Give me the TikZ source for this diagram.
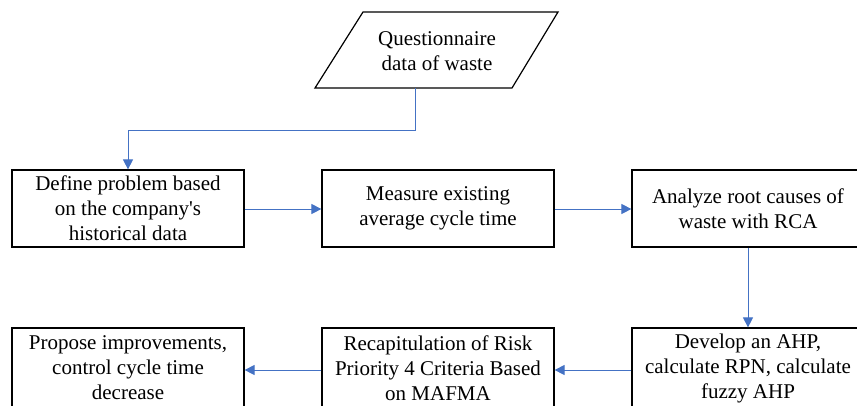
\documentclass[tikz,border=0pt]{standalone}
\usepackage{fontspec}
\setmainfont{Liberation Serif}
\usetikzlibrary{arrows.meta,calc}
\definecolor{conn}{HTML}{4472C4}
\tikzset{
  x=1pt,y=-1pt,
  stepbox/.style={draw=black,line width=1.2pt,minimum width=232pt,minimum height=77pt,align=center,inner sep=2pt,
    font=\fontsize{21}{25}\selectfont},
  lowbox/.style={stepbox,minimum height=80pt},
  conn/.style={draw=conn,line width=0.9pt,-{Triangle[length=10pt,width=10pt]}}
}
\begin{document}
\begin{tikzpicture}
\useasboundingbox (0,0) rectangle (857,405);
\clip (0,0) rectangle (857,405);
% input parallelogram
\draw[line width=1.2pt] (363,12) -- (558,12) -- (512,88) -- (315,88) -- cycle;
\node[align=center,font=\fontsize{21}{25}\selectfont] (q) at (437,51) {Questionnaire\\data of waste};
\coordinate (qb) at (415,88);
% top row
\node[stepbox] (b1) at (128,208.5) {Define problem based\\on the company\textquotesingle s\\historical data};
\node[stepbox] (b2) at (438,208.5) {Measure existing\\average cycle time};
\node[stepbox] (b3) at (748,208.5) {Analyze root causes of\\waste with RCA};
% bottom row
\node[lowbox] (b6) at (748,368) {Develop an AHP,\\calculate RPN, calculate\\fuzzy AHP};
\node[lowbox] (b5) at (438,368) {Recapitulation of Risk\\Priority 4 Criteria Based\\on MAFMA};
\node[lowbox] (b4) at (128,368) {Propose improvements,\\control cycle time\\decrease};
% connectors
\draw[conn] (qb) -- ++(0,42) -| (b1.north);
\draw[conn] (b1.east |- 0,209) -- (b2.west |- 0,209);
\draw[conn] (b2.east |- 0,209) -- (b3.west |- 0,209);
\draw[conn] (b3.south) -- (b6.north);
\draw[conn] (b6.west |- 0,370) -- (b5.east |- 0,370);
\draw[conn] (b5.west |- 0,370) -- (b4.east |- 0,370);
\end{tikzpicture}
\end{document}
